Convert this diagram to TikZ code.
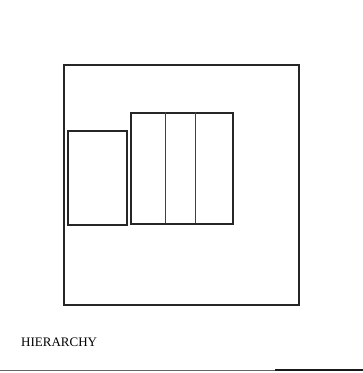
\documentclass[tikz,border=0pt]{standalone}
\usepackage{fontspec}
\setmainfont{Liberation Serif}
\begin{document}
\begin{tikzpicture}[x=1pt,y=-1pt,
  outerbox/.style={draw=black!85,line width=2pt},
  innerbox/.style={draw=black!85,line width=1.5pt},
  divider/.style={draw=black!75,line width=1pt},
  caption/.style={font=\fontsize{13}{15}\selectfont,anchor=west,inner sep=0pt}]
\useasboundingbox (0,0) rectangle (363,373);
\fill[white] (0,0) rectangle (363,373);
\node[outerbox,rectangle,minimum width=235pt,minimum height=240pt,inner sep=0pt,anchor=north west] (outer) at (63,64) {};
\node[innerbox,rectangle,minimum width=59pt,minimum height=94pt,inner sep=0pt,anchor=north west] (left) at (67,130) {};
\node[innerbox,rectangle,minimum width=102pt,minimum height=111pt,inner sep=0pt,anchor=north west] (right) at (130,112) {};
\coordinate (d1t) at (165.3,112);
\coordinate (d1b) at (165.3,223);
\coordinate (d2t) at (195.3,112);
\coordinate (d2b) at (195.3,223);
\draw[divider] (d1t) -- (d1b);
\draw[divider] (d2t) -- (d2b);
\node[caption] (cap) at (21,342) {HIERARCHY};
\coordinate (bl) at (0,370);
\coordinate (bm) at (275,370);
\coordinate (br) at (363,370);
\draw[black!60,line width=1pt] (bl) -- (bm);
\draw[black!90,line width=1.2pt] (bm) -- (br);
\end{tikzpicture}
\end{document}
